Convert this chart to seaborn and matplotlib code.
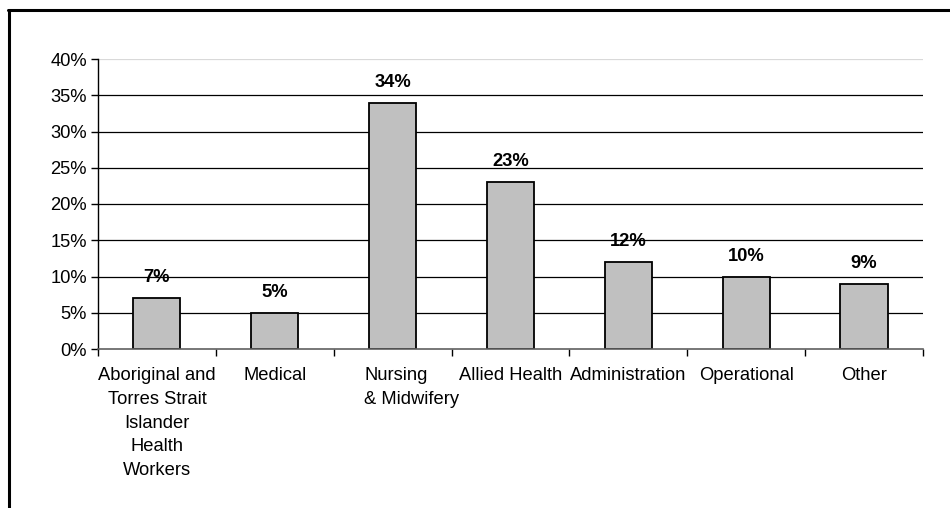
import matplotlib
matplotlib.use("Agg")
import matplotlib.pyplot as plt
from matplotlib.lines import Line2D
import seaborn as sns
import pandas as pd

categories = [
    "Aboriginal and\nTorres Strait\nIslander\nHealth\nWorkers",
    "Medical",
    "Nursing\n& Midwifery",
    "Allied Health",
    "Administration",
    "Operational",
    "Other",
]
shares = [7, 5, 34, 23, 12, 10, 9]
y_ticks = [0, 5, 10, 15, 20, 25, 30, 35, 40]
y_tick_labels = [f"{v}%" for v in y_ticks]

sns.set_theme(style="white")
plt.rcParams["font.family"] = ["Liberation Sans", "DejaVu Sans"]

df = pd.DataFrame({"category": categories, "share": shares})

W, H = 950, 508
FS = 13.2
PAD = 13
fig = plt.figure(figsize=(W / 100, H / 100), dpi=100)
ax = fig.add_axes([98 / W, 1 - 349 / H, (923 - 98) / W, (349 - 59) / H])

# horizontal gridlines, the top one drawn faint
for v in y_ticks[1:]:
    ax.axhline(v, color="#d9d9d9" if v == y_ticks[-1] else "black",
               lw=0.9, zorder=0)

sns.barplot(data=df, x="category", y="share", ax=ax, color="#c0c0c0",
            edgecolor="black", linewidth=1.3, width=0.4, saturation=1,
            zorder=2)

for i, v in enumerate(shares):
    ax.text(i, v + 2.8, f"{v}%", ha="center", va="center",
            fontsize=FS, fontweight="bold", color="black")

ax.set_xlim(-0.5, len(categories) - 0.5)
ax.set_ylim(y_ticks[0], y_ticks[-1])
ax.set_yticks(y_ticks)
ax.set_yticklabels(y_tick_labels, fontsize=FS, color="black")
ax.set_xlabel("")
ax.set_ylabel("")

# category labels; the wrapped nursing label sits left-aligned, nudged right
wrapped = 2
ax.set_xticks(range(len(categories)))
ax.set_xticklabels([c if i != wrapped else "" for i, c in enumerate(categories)],
                   fontsize=FS, color="black", linespacing=1.52,
                   multialignment="center")
ax.annotate(categories[wrapped], xy=(wrapped, 0),
            xycoords=("data", "axes fraction"),
            xytext=(13.7, -PAD), textcoords="offset points",
            ha="center", va="top", multialignment="left",
            fontsize=FS, color="black", linespacing=1.52)

ax.set_xticks([k - 0.5 for k in range(len(categories) + 1)], minor=True)
ax.tick_params(axis="x", which="major", length=0, pad=PAD)
ax.tick_params(axis="x", which="minor", length=5, width=1, color="black",
               direction="out", bottom=True)
ax.tick_params(axis="y", which="major", length=5, width=1, color="black",
               direction="out", left=True, pad=3)

for s in ["top", "right"]:
    ax.spines[s].set_visible(False)
ax.spines["left"].set_color("black")
ax.spines["left"].set_linewidth(1)
ax.spines["bottom"].set_color("#606060")
ax.spines["bottom"].set_linewidth(1.2)

# outer frame along the left and top edges
fig.add_artist(Line2D([9.0 / W, 9.0 / W], [0, 1 - 10 / H],
                      transform=fig.transFigure, color="black", lw=2.2))
fig.add_artist(Line2D([8.0 / W, 1], [1 - 10 / H, 1 - 10 / H],
                      transform=fig.transFigure, color="black", lw=2.2))

fig.savefig("out.png", dpi=100)
